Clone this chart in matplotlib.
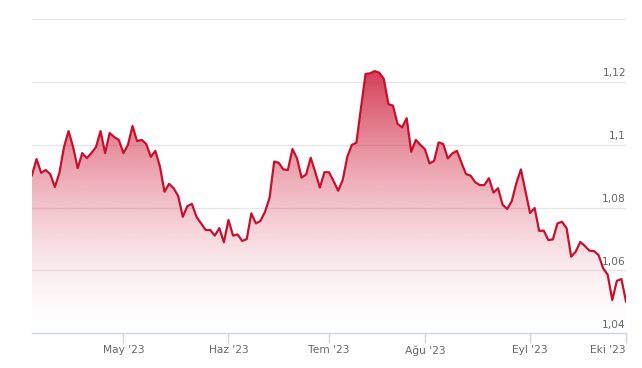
import numpy as np
import matplotlib
matplotlib.use("Agg")
import matplotlib.pyplot as plt
from matplotlib.colors import to_rgb

# ============================================================
# Data: daily (business-day) values, Apr 3 2023 -> Oct 2 2023
# ============================================================
values = [
    1.0904, 1.0955, 1.0911, 1.0920, 1.0907, 1.0866, 1.0911, 1.0993, 1.1044, 1.0993,
    1.0926, 1.0974, 1.0958, 1.0974, 1.0993, 1.1044, 1.0974, 1.1038, 1.1025, 1.1016,
    1.0974, 1.1000, 1.1060, 1.1012, 1.1016, 1.1003, 1.0962, 1.0981, 1.0931, 1.0851,
    1.0876, 1.0862, 1.0837, 1.0771, 1.0805, 1.0812, 1.0771, 1.0750, 1.0729, 1.0729,
    1.0711, 1.0735, 1.0690, 1.0761, 1.0711, 1.0715, 1.0694, 1.0700, 1.0782, 1.0750,
    1.0758, 1.0787, 1.0832, 1.0947, 1.0943, 1.0922, 1.0920, 1.0987, 1.0957, 1.0896,
    1.0906, 1.0959, 1.0913, 1.0864, 1.0913, 1.0913, 1.0885, 1.0854, 1.0888, 1.0962,
    1.1000, 1.1007, 1.1118, 1.1226, 1.1228, 1.1235, 1.1230, 1.1210, 1.1130, 1.1125,
    1.1067, 1.1056, 1.1085, 1.0978, 1.1016, 1.1000, 1.0986, 1.0941, 1.0949, 1.1008,
    1.1003, 1.0957, 1.0973, 1.0981, 1.0943, 1.0907, 1.0902, 1.0881, 1.0872, 1.0872,
    1.0894, 1.0848, 1.0862, 1.0809, 1.0796, 1.0821, 1.0878, 1.0922, 1.0853, 1.0783,
    1.0799, 1.0726, 1.0727, 1.0697, 1.0699, 1.0750, 1.0755, 1.0735, 1.0644, 1.0660,
    1.0691, 1.0678, 1.0663, 1.0662, 1.0649, 1.0607, 1.0586, 1.0506, 1.0567, 1.0573,
    1.0501,
]

# month ticks (index of first business day in each month)
tick_idx = [20, 43, 65, 86, 109, 130]
tick_labels = ["May '23", "Haz '23", "Tem '23", "Ağu '23", "Eyl '23", "Eki '23"]

y_ticks = [1.04, 1.06, 1.08, 1.10, 1.12]
y_labels = ["1,04", "1,06", "1,08", "1,1", "1,12"]

line_color = "#c8102e"
grid_color = "#e6e6e6"
text_color = "#666666"

# ============================================================
# Figure
# ============================================================
fig = plt.figure(figsize=(6.42, 3.68), dpi=100)
ax = fig.add_axes([32 / 642, 34.7 / 368, 594 / 642, 314 / 368])

x = np.arange(len(values))
y = np.array(values)
y0, y1 = 1.04, 1.14

ax.set_xlim(0, len(values) - 1)
ax.set_ylim(y0, y1)

# grid lines (behind the fill)
for v in [1.06, 1.08, 1.10, 1.12, 1.14]:
    ax.axhline(v, color=grid_color, lw=1.0, zorder=0)

# gradient fill under the line
poly = ax.fill_between(x, y, y0, color="none", lw=0)
ymax = y.max()
frac = np.linspace(1, 0, 300)[:, None]
alpha = 0.88 * frac ** 1.6
rgb = np.array(to_rgb("#d0233f"))
img = np.ones((300, 2, 4))
img[..., :3] = rgb
img[..., 3] = alpha
im = ax.imshow(img, extent=[0, len(values) - 1, y0, ymax], aspect="auto",
               zorder=1, interpolation="bilinear")
im.set_clip_path(poly.get_paths()[0], transform=ax.transData)

ax.plot(x, y, color=line_color, lw=1.6, zorder=3, solid_joinstyle="round")

for s in ["top", "right", "left"]:
    ax.spines[s].set_visible(False)
ax.spines["bottom"].set_color("#ccd6eb")
ax.spines["bottom"].set_linewidth(1.0)

ax.set_yticks([])
ax.set_xticks(tick_idx)
ax.set_xticklabels(tick_labels, fontsize=7.7, color=text_color)
ax.tick_params(axis="x", length=7, width=1, color="#ccd6eb", pad=1.5)
ax.get_xticklabels()[-1].set_ha("right")
ax.get_xticklabels()[-1].set_x(tick_idx[-1] + 0.5)

# y labels inside, right-aligned above the grid lines
for v, lab in zip(y_ticks, y_labels):
    ax.text(len(values) - 1, v + 0.0012, lab, ha="right", va="bottom",
            fontsize=7.7, color=text_color)

fig.savefig("out.png", dpi=100)
